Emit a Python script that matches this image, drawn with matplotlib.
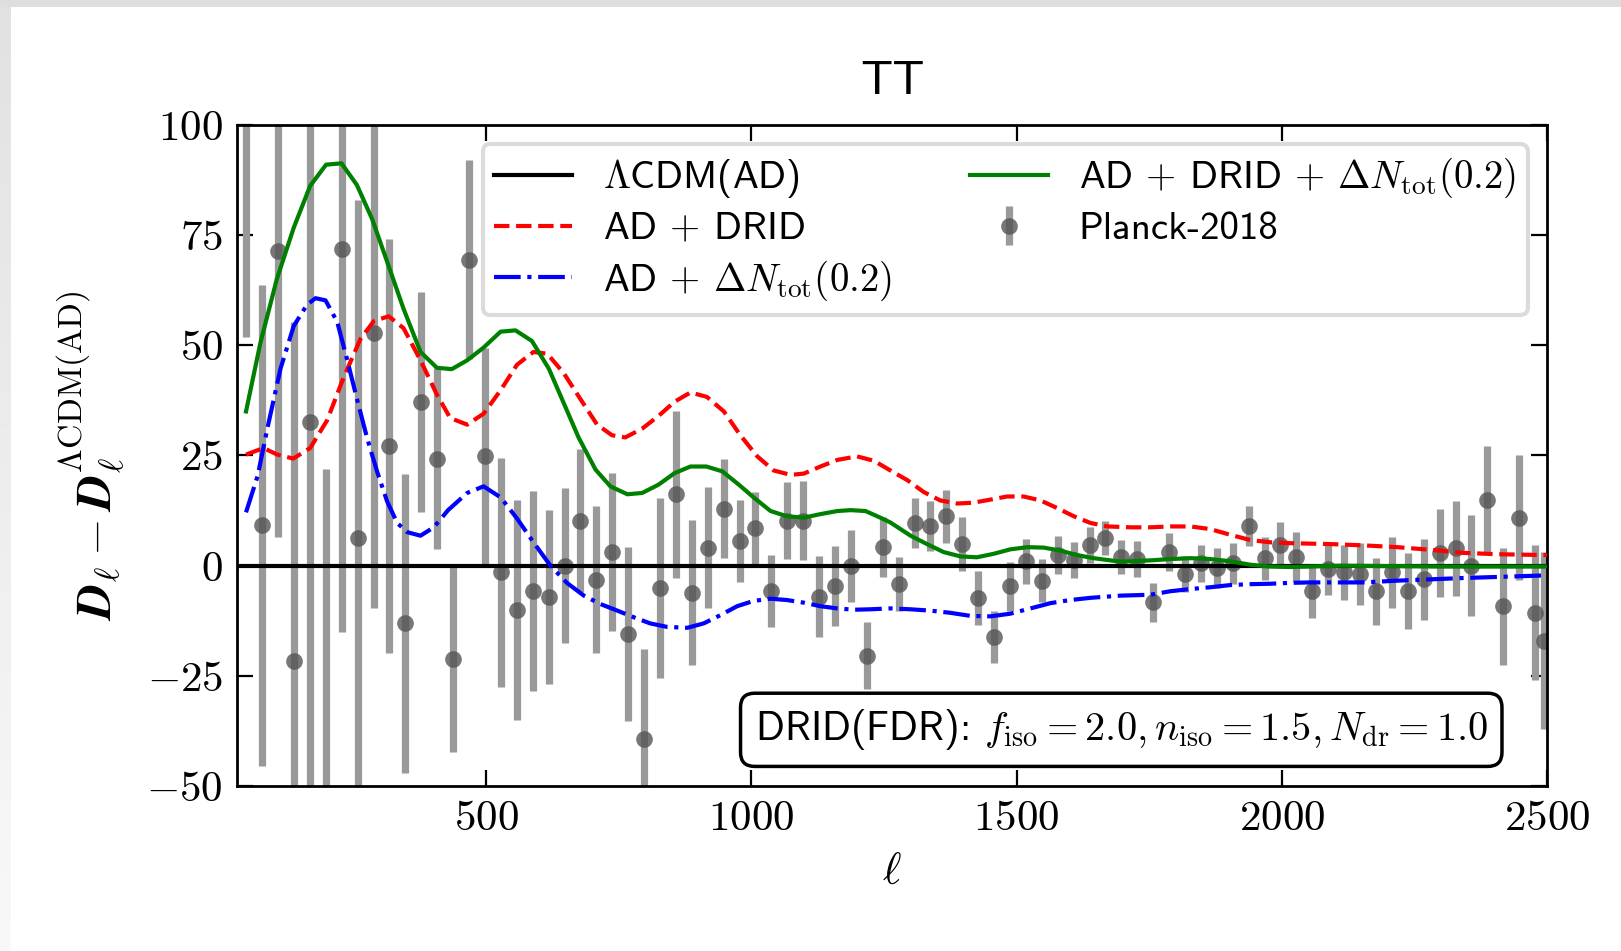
import numpy as np
import matplotlib
matplotlib.use("Agg")
import matplotlib.pyplot as plt

plt.rcParams['font.family'] = 'cmss10'
plt.rcParams['mathtext.fontset'] = 'cm'
plt.rcParams['axes.formatter.use_mathtext'] = True

# ---------------- data ----------------
# Planck-2018 binned TT residuals w.r.t. LCDM(AD)
planck_ell = [47.5, 77.5, 107.5, 137.5, 167.5, 197.5, 227.5, 257.5, 287.5, 317.5,
              347.5, 377.5, 407.5, 437.5, 467.5, 497.5, 527.5, 557.5, 587.5, 617.5,
              647.5, 677.5, 707.5, 737.5, 767.5, 797.5, 827.5, 857.5, 887.5, 917.5,
              947.5, 977.5, 1007.5, 1037.5, 1067.5, 1097.5, 1127.5, 1157.5, 1187.5, 1217.5,
              1247.5, 1277.5, 1307.5, 1337.5, 1367.5, 1397.5, 1427.5, 1457.5, 1487.5, 1517.5,
              1547.5, 1577.5, 1607.5, 1637.5, 1667.5, 1697.5, 1727.5, 1757.5, 1787.5, 1817.5,
              1847.5, 1877.5, 1907.5, 1937.5, 1967.5, 1997.5, 2027.5, 2057.5, 2087.5, 2117.5,
              2147.5, 2177.5, 2207.5, 2237.5, 2267.5, 2297.5, 2327.5, 2357.5, 2387.5, 2417.5,
              2447.5, 2477.5, 2494.0]
planck_res = [108.0, 9.2, 71.4, -21.7, 32.7, -56.0, 71.8, 6.3, 52.7, 27.2,
              -13.1, 37.2, 24.3, -21.2, 69.4, 24.8, -1.5, -10.0, -5.8, -7.1,
              0.0, 10.2, -3.2, 3.1, -15.5, -39.3, -5.1, 16.2, -6.1, 4.1,
              12.9, 5.6, 8.5, -5.8, 10.2, 10.2, -7.0, -4.6, 0.0, -20.4,
              4.2, -4.2, 9.7, 9.0, 11.2, 5.0, -7.3, -16.2, -4.7, 1.0,
              -3.4, 2.4, 1.3, 4.7, 6.3, 1.9, 1.5, -8.3, 3.1, -1.9,
              0.5, -0.5, 0.5, 9.0, 1.7, 4.6, 1.9, -5.8, -0.8, -1.5,
              -1.9, -5.8, -1.5, -5.8, -3.1, 2.9, 3.9, 0.0, 15.0, -9.2,
              10.9, -10.7, -17.0]
planck_err = [56.0, 54.6, 65.0, 77.0, 85.0, 78.0, 86.8, 76.7, 62.4, 47.0,
              34.0, 25.0, 20.5, 21.0, 22.6, 24.5, 26.0, 25.0, 22.7, 19.8,
              17.6, 16.2, 16.7, 18.0, 19.7, 20.4, 20.4, 18.9, 16.5, 13.8,
              11.2, 9.3, 8.2, 8.2, 8.7, 9.0, 9.2, 9.0, 8.2, 7.6,
              6.8, 6.2, 5.6, 5.6, 6.0, 6.1, 6.2, 6.0, 5.6, 5.1,
              4.8, 4.3, 4.1, 4.0, 3.9, 3.9, 4.0, 4.4, 4.3, 4.1,
              4.3, 4.5, 4.6, 4.6, 4.9, 5.2, 5.7, 6.0, 5.8, 6.2,
              7.0, 7.6, 8.0, 8.6, 9.2, 9.9, 10.7, 11.5, 12.1, 13.3,
              14.2, 15.3, 20.0]

# LCDM(AD) reference (zero residual)
lcdm_ell = [30, 2500]
lcdm_res = [0.0, 0.0]

# AD + DRID
drid_ell = [47, 80, 106, 136, 168, 200, 231, 263, 288, 316, 344, 376, 407, 432, 464,
            495, 527, 558, 589, 615, 646, 677, 709, 737, 762, 794, 825, 855, 885, 916,
            948, 979, 1011, 1042, 1074, 1099, 1130, 1162, 1199, 1231, 1262, 1294, 1325,
            1356, 1388, 1419, 1451, 1482, 1513, 1545, 1576, 1608, 1639, 1671, 1715, 1752,
            1790, 1828, 1865, 1903, 1941, 1979, 2016, 2054, 2092, 2155, 2218, 2280, 2343,
            2406, 2500]
drid_res = [25.2, 26.7, 25.2, 24.3, 26.7, 33.0, 42.7, 51.5, 55.5, 56.6, 53.9, 46.6, 38.8,
            33.5, 32.0, 34.5, 39.8, 45.6, 48.5, 48.1, 43.7, 37.9, 32.0, 29.6, 29.1, 31.1,
            34.0, 37.2, 39.3, 38.3, 35.0, 29.6, 24.8, 21.6, 20.6, 20.9, 22.5, 24.0, 24.8,
            23.8, 21.6, 19.4, 16.7, 14.8, 14.1, 14.3, 15.0, 15.7, 15.7, 14.8, 13.1, 11.2,
            9.7, 8.9, 8.7, 8.7, 8.9, 8.9, 8.3, 7.0, 5.8, 5.3, 5.1, 5.0, 4.9, 4.6, 4.2, 3.6,
            2.9, 2.6, 2.4]

# AD + Delta N_tot(0.2)
dn_ell = [47, 69, 87, 112, 137, 162, 178, 197, 219, 238, 256, 275, 294, 313, 332, 351,
          376, 401, 428, 464, 495, 527, 558, 589, 621, 652, 684, 715, 747, 778, 809, 841,
          879, 910, 942, 973, 1004, 1036, 1067, 1099, 1130, 1162, 1193, 1224, 1262, 1300,
          1337, 1375, 1413, 1451, 1488, 1526, 1564, 1601, 1639, 1696, 1752, 1790, 1828,
          1865, 1903, 1941, 1979, 2016, 2054, 2154, 2218, 2343, 2500]
dn_res = [12.1, 20.4, 31.0, 44.7, 54.4, 59.2, 60.7, 60.2, 55.3, 46.6, 37.9, 29.1, 21.4,
          14.6, 9.7, 7.6, 6.8, 8.7, 12.6, 16.5, 18.0, 15.5, 10.7, 5.3, 0.0, -3.9, -6.8,
          -8.7, -10.2, -11.7, -13.1, -13.9, -14.1, -13.1, -11.2, -9.2, -8.0, -7.5, -7.8,
          -8.4, -9.2, -9.7, -10.0, -9.9, -9.7, -9.9, -10.2, -10.7, -11.4, -11.5, -10.9,
          -9.7, -8.5, -7.8, -7.3, -6.8, -6.6, -5.8, -5.3, -4.9, -4.4, -4.2, -4.1, -3.9,
          -3.8, -3.8, -3.4, -2.8, -2.2]

# AD + DRID + Delta N_tot(0.2)
both_ell = [47, 74, 105, 137, 168, 198, 227, 256, 285, 313, 344, 376, 407, 435, 464, 495,
            527, 555, 586, 618, 646, 674, 706, 734, 766, 794, 825, 855, 885, 915, 945, 976,
            1004, 1036, 1067, 1099, 1130, 1162, 1187, 1215, 1243, 1262, 1300, 1331, 1362,
            1394, 1425, 1457, 1488, 1520, 1551, 1583, 1614, 1645, 1696, 1752, 1790, 1828,
            1865, 1903, 1941, 1978, 2016, 2054, 2110, 2200, 2300, 2400, 2500]
both_res = [35.0, 50.5, 65.0, 76.7, 86.2, 91.0, 91.3, 86.4, 78.6, 69.0, 58.3, 48.5, 44.9,
            44.6, 46.6, 49.5, 53.1, 53.4, 51.0, 44.7, 36.9, 29.1, 21.8, 18.0, 16.2, 16.5,
            18.4, 21.0, 22.5, 22.5, 21.4, 18.4, 15.5, 12.4, 11.2, 10.9, 11.7, 12.4, 12.6,
            12.4, 10.9, 9.8, 6.8, 4.9, 3.1, 2.1, 1.9, 2.7, 3.7, 4.2, 4.1, 3.4, 2.4, 1.7,
            0.9, 1.2, 1.5, 1.7, 1.5, 1.0, 0.2, -0.2, -0.3, -0.2, 0.0, -0.1, -0.2, -0.2, -0.2]

xticks = [500, 1000, 1500, 2000, 2500]
yticks = [-50, -25, 0, 25, 50, 75, 100]
xticklabels = [r'$500$', r'$1000$', r'$1500$', r'$2000$', r'$2500$']
yticklabels = [r'$-50$', r'$-25$', r'$0$', r'$25$', r'$50$', r'$75$', r'$100$']

# ---------------- figure ----------------
W, H = 1621, 951
fig = plt.figure(figsize=(W / 100, H / 100), dpi=100)
fig.patch.set_facecolor('white')

# screenshot-like grey frame (top and left)
bg = fig.add_axes([0, 0, 1, 1], zorder=-10)
bg.set_xlim(0, W)
bg.set_ylim(H, 0)
bg.axis('off')
grad = np.linspace(0.885, 0.975, 100).reshape(-1, 1)
bg.imshow(np.dstack([grad, grad, grad]), extent=[0, 11, H, 0], aspect='auto')
bg.add_patch(plt.Rectangle((0, 0), W, 7, color='#dedede', lw=0))

ax = fig.add_axes([237 / W, 1 - 786 / H, (1547 - 237) / W, (786 - 125) / H])

eb = ax.errorbar(planck_ell, planck_res, yerr=planck_err, fmt='o', color='#555555',
                 alpha=0.8, ms=12, mew=0, ecolor='#999999', elinewidth=5.2,
                 capsize=0, zorder=2, label='Planck-2018')
for c in eb[2]:
    c.set_alpha(1.0)

lw = 3.0
l1, = ax.plot(lcdm_ell, lcdm_res, color='k', lw=lw, zorder=3,
              label=r'$\Lambda$CDM(AD)')
l2, = ax.plot(drid_ell, drid_res, color='r', ls='--', lw=lw, zorder=3,
              label=r'AD $+$ DRID')
l3, = ax.plot(dn_ell, dn_res, color='b', ls='-.', lw=lw, zorder=3,
              label=r'AD $+$ $\Delta N_{\rm tot}(0.2)$')
l4, = ax.plot(both_ell, both_res, color='g', ls='-', lw=lw, zorder=3,
              label=r'AD $+$ DRID $+$ $\Delta N_{\rm tot}(0.2)$')

ax.set_xlim(30, 2500)
ax.set_ylim(-50, 100)
ax.set_xticks(xticks)
ax.set_xticklabels(xticklabels)
ax.set_yticks(yticks)
ax.set_yticklabels(yticklabels)
ax.tick_params(which='major', direction='in', length=11.5, width=1.6,
               top=True, right=True, labelsize=31, pad=10)
for sp in ax.spines.values():
    sp.set_linewidth(2.0)

ax.set_title('TT', fontsize=34, pad=22)
ax.set_xlabel(r'$\ell$', fontsize=32, labelpad=10)
ax.set_ylabel(r'$\boldsymbol{D}_\ell - \boldsymbol{D}_\ell^{\Lambda{\rm CDM(AD)}}$',
              fontsize=35, labelpad=14)

leg = ax.legend(handles=[l1, l2, l3, l4, eb], ncol=2, loc='upper right',
                fontsize=28, handlelength=2.0, labelspacing=0.3,
                columnspacing=2.0, handletextpad=0.8, borderpad=0.3,
                fancybox=True, framealpha=0.8)
leg.get_frame().set_edgecolor('#d3d3d3')
leg.get_frame().set_linewidth(3.0)

ax.text(0.675, 0.085,
        r'DRID(FDR): $f_{\rm iso}=2.0, n_{\rm iso}=1.5, N_{\rm dr}=1.0$',
        transform=ax.transAxes, ha='center', va='center', fontsize=29,
        bbox=dict(boxstyle='round,pad=0.35', facecolor='white', edgecolor='k',
                  linewidth=2.5), zorder=5)

fig.savefig('out.png', dpi=100)
